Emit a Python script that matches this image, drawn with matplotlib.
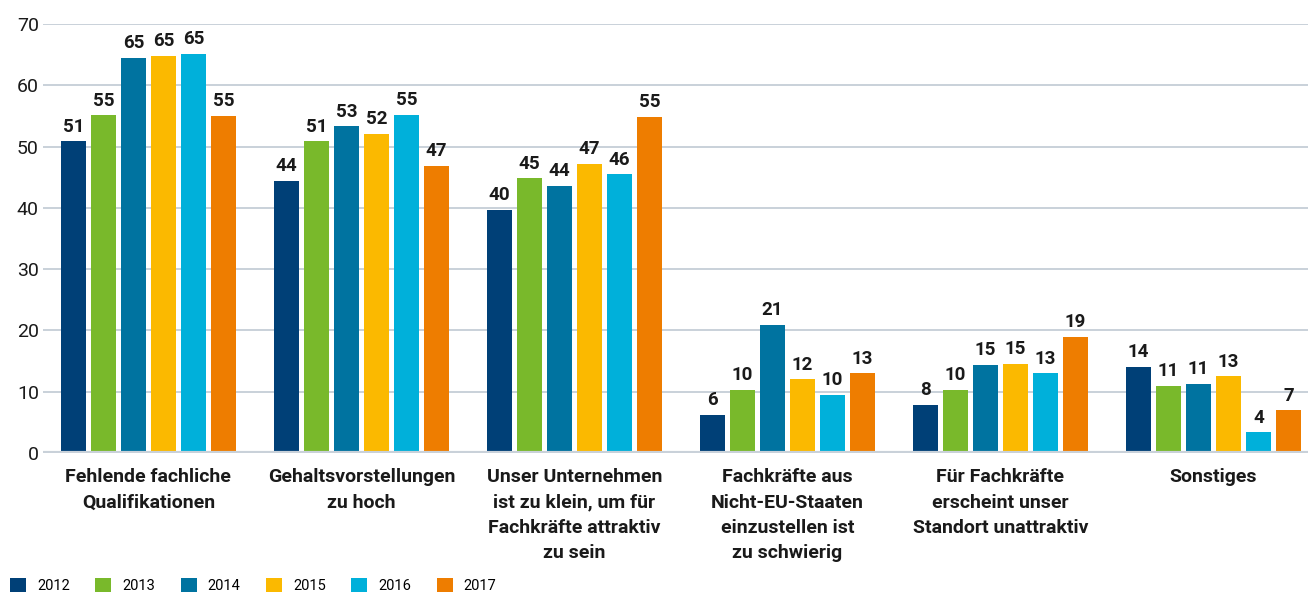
import numpy as np
import matplotlib
matplotlib.use("Agg")
import matplotlib.pyplot as plt
from matplotlib.patches import Patch

plt.rcParams['font.family'] = ['Roboto', 'DejaVu Sans']

# data
categories = [
    "Fehlende fachliche\nQualifikationen",
    "Gehaltsvorstellungen\nzu hoch",
    "Unser Unternehmen\nist zu klein, um für\nFachkräfte attraktiv\nzu sein",
    "Fachkräfte aus\nNicht-EU-Staaten\neinzustellen ist\nzu schwierig",
    "Für Fachkräfte\nerscheint unser\nStandort unattraktiv",
    "Sonstiges",
]
years = ["2012", "2013", "2014", "2015", "2016", "2017"]
v2012 = [50.9, 44.4, 39.7, 6.2, 7.9, 14.1]
v2013 = [55.1, 50.9, 44.8, 10.3, 10.3, 11.0]
v2014 = [64.5, 53.3, 43.6, 20.9, 14.4, 11.3]
v2015 = [64.8, 52.1, 47.2, 12.0, 14.6, 12.5]
v2016 = [65.1, 55.2, 45.5, 9.5, 13.0, 3.4]
v2017 = [55.0, 46.9, 54.9, 13.0, 19.0, 7.0]
l2012 = ["51", "44", "40", "6", "8", "14"]
l2013 = ["55", "51", "45", "10", "10", "11"]
l2014 = ["65", "53", "44", "21", "15", "11"]
l2015 = ["65", "52", "47", "12", "15", "13"]
l2016 = ["65", "55", "46", "10", "13", "4"]
l2017 = ["55", "47", "55", "13", "19", "7"]
colors = ["#004077", "#79b92b", "#0073a0", "#fbb900", "#00b0da", "#ee7d00"]

series = [v2012, v2013, v2014, v2015, v2016, v2017]
labels = [l2012, l2013, l2014, l2015, l2016, l2017]

fig = plt.figure(figsize=(13.08, 5.92), dpi=100)
ax = fig.add_axes([43 / 1308, 1 - 453 / 592, 1 - 43 / 1308, (453 - 24) / 592])

x = np.arange(len(categories))
pitch = 30 / 213
width = 25 / 213
for i, (vals, labs) in enumerate(zip(series, labels)):
    xs = x + (i - 2.5) * pitch
    bars = ax.bar(xs, vals, width=width, color=colors[i], zorder=3)
    ax.bar_label(bars, labels=labs, padding=4, fontsize=13.5, fontweight='bold',
                 color='#1a1a1a')

ax.set_ylim(0, 70)
ax.set_xlim(-0.495, 5.444)
ax.set_yticks(range(0, 71, 10))
ax.yaxis.grid(True, color='#c9d1d9', linewidth=1.4, zorder=0)
ax.axhline(0, color='#c9d1d9', linewidth=3, zorder=4)
for s in ax.spines.values():
    s.set_visible(False)
ax.tick_params(axis='y', length=0, pad=3, labelsize=14, labelcolor='#1a1a1a')
ax.set_xticks(x)
ax.set_xticklabels(categories, fontsize=14, fontweight='bold', linespacing=1.52,
                   va='top', color='#1a1a1a')
ax.tick_params(axis='x', length=0, pad=11)

handles = [Patch(facecolor=c, label=y) for c, y in zip(colors, years)]
fig.legend(handles=handles, loc='lower left', bbox_to_anchor=(10 / 1308, -1 / 592), ncol=6,
           frameon=False, borderpad=0, borderaxespad=0, fontsize=10.5,
           handlelength=1.1, handleheight=1.1, handletextpad=0.75, columnspacing=1.75)

fig.savefig("out.png", dpi=100)
